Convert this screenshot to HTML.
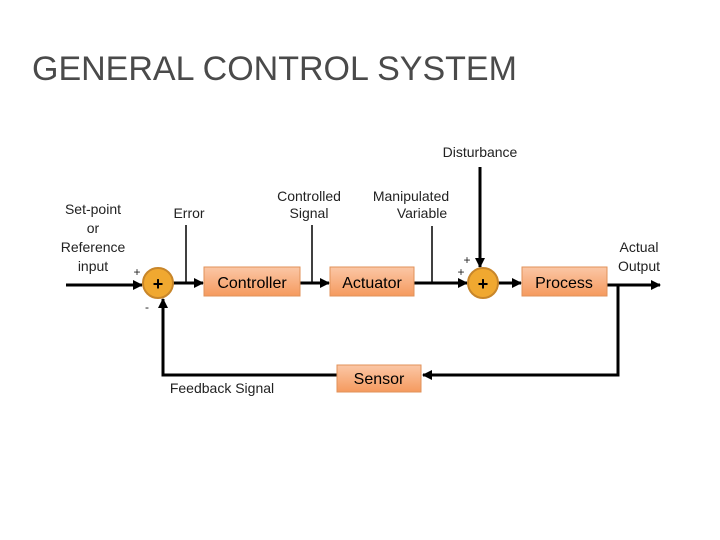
<!DOCTYPE html>
<html><head><meta charset="utf-8"><style>
html,body{margin:0;padding:0;background:#fff;}
body{width:720px;height:540px;position:relative;overflow:hidden;font-family:"Liberation Sans",sans-serif;}
.t{position:absolute;left:32px;top:50px;font-size:34px;color:#4a4a4a;letter-spacing:0px;}
</style></head><body>
<div class="t">GENERAL CONTROL SYSTEM</div>
<svg width="720" height="540" style="position:absolute;left:0;top:0">
<defs>
<linearGradient id="g" x1="0" y1="0" x2="0" y2="1"><stop offset="0" stop-color="#fbc7a6"/><stop offset="1" stop-color="#f59a5e"/></linearGradient>
<marker id="a" markerWidth="10" markerHeight="10" refX="9" refY="5" orient="auto" markerUnits="userSpaceOnUse"><path d="M0,0 L10,5 L0,10 z" fill="#000"/></marker>
</defs>
<g stroke="#000" stroke-width="3" fill="none">
<line x1="66" y1="285" x2="142" y2="285" marker-end="url(#a)"/>
<line x1="173" y1="283" x2="203" y2="283" marker-end="url(#a)"/>
<line x1="300" y1="283" x2="329" y2="283" marker-end="url(#a)"/>
<line x1="414" y1="283" x2="467" y2="283" marker-end="url(#a)"/>
<line x1="498" y1="283" x2="521" y2="283" marker-end="url(#a)"/>
<line x1="607" y1="285" x2="660" y2="285" marker-end="url(#a)"/>
<line x1="480" y1="167" x2="480" y2="267" marker-end="url(#a)"/>
<polyline points="618,285 618,375 423,375" marker-end="url(#a)"/>
<polyline points="337,375 163,375 163,299" marker-end="url(#a)"/>
</g>
<g stroke="#000" stroke-width="1.5">
<line x1="186" y1="225" x2="186" y2="283"/>
<line x1="312" y1="225" x2="312" y2="283"/>
<line x1="432" y1="226" x2="432" y2="283"/>
</g>
<circle cx="158" cy="283" r="15" fill="#f0a830" stroke="#c8862a" stroke-width="2"/>
<circle cx="483" cy="283" r="15" fill="#f0a830" stroke="#c8862a" stroke-width="2"/>
<g fill="url(#g)" stroke="#e0925a" stroke-width="1">
<rect x="204" y="267" width="96" height="29"/>
<rect x="330" y="267" width="84" height="29"/>
<rect x="522" y="267" width="85" height="29"/>
<rect x="337" y="365" width="84" height="27"/>
</g>
<g font-family="Liberation Sans, sans-serif" fill="#000">
<text x="158" y="290" font-size="18" text-anchor="middle" font-weight="bold">+</text>
<text x="483" y="290" font-size="18" text-anchor="middle" font-weight="bold">+</text>
<text x="252" y="288" font-size="16" text-anchor="middle">Controller</text>
<text x="372" y="288" font-size="16" text-anchor="middle">Actuator</text>
<text x="564" y="288" font-size="16" text-anchor="middle">Process</text>
<text x="379" y="384" font-size="16" text-anchor="middle">Sensor</text>
</g>
<g font-family="Liberation Sans, sans-serif" fill="#222" font-size="14">
<text x="93" y="214" text-anchor="middle">Set-point</text>
<text x="93" y="233" text-anchor="middle">or</text>
<text x="93" y="252" text-anchor="middle">Reference</text>
<text x="93" y="271" text-anchor="middle">input</text>
<text x="189" y="218" text-anchor="middle">Error</text>
<text x="309" y="201" text-anchor="middle">Controlled</text>
<text x="309" y="218" text-anchor="middle">Signal</text>
<text x="411" y="201" text-anchor="middle">Manipulated</text>
<text x="422" y="218" text-anchor="middle">Variable</text>
<text x="480" y="157" text-anchor="middle">Disturbance</text>
<text x="639" y="252" text-anchor="middle">Actual</text>
<text x="639" y="271" text-anchor="middle">Output</text>
<text x="222" y="393" text-anchor="middle">Feedback Signal</text>
<text x="137" y="276" font-size="12" text-anchor="middle">+</text>
<text x="147" y="311" font-size="12" text-anchor="middle">-</text>
<text x="467" y="264" font-size="12" text-anchor="middle">+</text>
<text x="461" y="276" font-size="12" text-anchor="middle">+</text>
</g>
</svg>
</body></html>
